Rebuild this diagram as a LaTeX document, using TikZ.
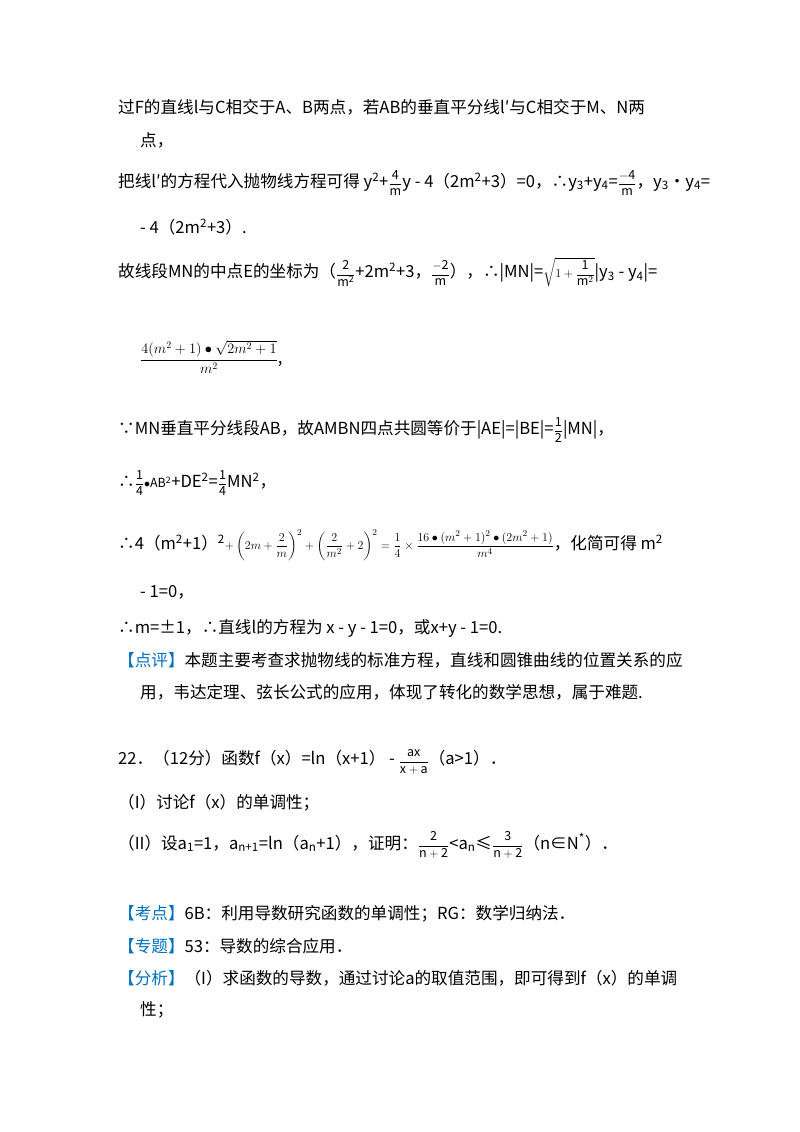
\documentclass[tikz,border=0pt]{standalone}
\usepackage{amsmath}
\usepackage{fontspec}
\setmainfont{Noto Sans CJK SC}
\definecolor{kblue}{RGB}{0,112,192}
\newcommand{\kb}[1]{\textcolor{kblue}{#1}}
\newcommand{\fr}[2]{{\fontsize{12.5}{15}\selectfont$\dfrac{\mathrm{#1}}{\mathrm{#2}}$}}
\newcommand{\mfs}{\fontsize{14.5}{17}\selectfont}
\begin{document}
\begin{tikzpicture}[x=1pt,y=1pt,every node/.style={anchor=west,inner sep=0pt,font=\fontsize{16.6}{20}\selectfont}]
\useasboundingbox (0,0) rectangle (800,-1132);
\node (l1) at (118,-107) {过F的直线l与C相交于A、B两点，若AB的垂直平分线l′与C相交于M、N两};
\node (l2) at (140,-140) {点，};
\node (l3) at (118,-183) {把线l′的方程代入抛物线方程可得 y\textsuperscript{2}+\fr{4}{m}y - 4（2m\textsuperscript{2}+3）=0，∴y\textsubscript{3}+y\textsubscript{4}=\fr{-4}{m}，y\textsubscript{3}•y\textsubscript{4}=};
\node (l4) at (140,-227) {- 4（2m\textsuperscript{2}+3）.};
\node (l5) at (118,-272) {故线段MN的中点E的坐标为（\fr{2}{m^2}+2m\textsuperscript{2}+3，\fr{-2}{m}），∴|MN|={\fontsize{12.5}{15}\selectfont$\displaystyle\sqrt{1+\frac{\mathrm{1}}{\mathrm{m}^2}}$}|y\textsubscript{3} - y\textsubscript{4}|=};
\node (l6) at (140,-357) {{\mfs$\dfrac{4(m^2+1)\bullet\sqrt{2m^2+1}}{m^2}$},};
\node (l7) at (118,-430) {∵MN垂直平分线段AB，故AMBN四点共圆等价于|AE|=|BE|=\fr{1}{2}|MN|，};
\node (l8) at (118,-483) {∴\fr{1}{4}{\fontsize{12.5}{15}\selectfont$\bullet$AB\textsuperscript{2}}+DE\textsuperscript{2}=\fr{1}{4}MN\textsuperscript{2}，};
\node (l9) at (118,-545) {∴4（m\textsuperscript{2}+1）\textsuperscript{2}{\fontsize{12.5}{15}\selectfont$+\left(2m+\dfrac{2}{m}\right)^2+\left(\dfrac{2}{m^2}+2\right)^2=\dfrac14\times\dfrac{16\bullet(m^2+1)^2\bullet(2m^2+1)}{m^4}$}，化简可得 m\textsuperscript{2}};
\node (l10) at (140,-592) {- 1=0，};
\node (l11) at (118,-628) {∴m=±1，∴直线l的方程为 x - y - 1=0，或x+y - 1=0.};
\node (l12) at (118,-660) {\kb{【点评】}本题主要考查求抛物线的标准方程，直线和圆锥曲线的位置关系的应};
\node (l13) at (140,-692) {用，韦达定理、弦长公式的应用，体现了转化的数学思想，属于难题.};
\node (l14) at (118,-762) {22．（12分）函数f（x）=ln（x+1） - \fr{ax}{x+a}（a>1）．};
\node (l15) at (118,-803) {（I）讨论f（x）的单调性；};
\node (l16) at (118,-845) {（II）设a\textsubscript{1}=1，a\textsubscript{n+1}=ln（a\textsubscript{n}+1），证明：\fr{2}{n+2}<a\textsubscript{n}≤\fr{3}{n+2}（n∈N\textsuperscript{*}）．};
\node (l17) at (118,-914) {\kb{【考点】}6B：利用导数研究函数的单调性；RG：数学归纳法．};
\node (l18) at (118,-946) {\kb{【专题】}53：导数的综合应用．};
\node (l19) at (118,-978) {\kb{【分析】}（I）求函数的导数，通过讨论a的取值范围，即可得到f（x）的单调};
\node (l20) at (140,-1010) {性；};
\end{tikzpicture}
\end{document}
